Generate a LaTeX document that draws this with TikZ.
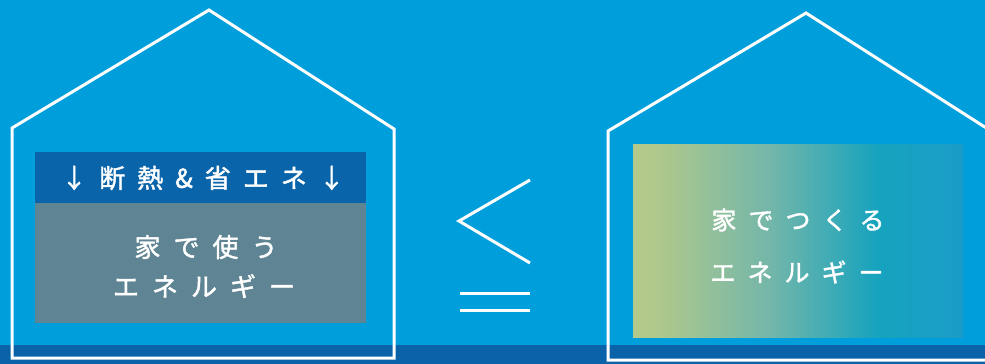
\documentclass[tikz,border=0pt]{standalone}
\usepackage{fontspec}
\newfontfamily\jp[FakeBold=1.6]{Noto Sans CJK JP}
\definecolor{bg}{HTML}{009FDC}
\definecolor{band}{HTML}{0A63A8}
\definecolor{hdrc}{HTML}{0A64AA}
\definecolor{usec}{HTML}{5F8493}
\definecolor{ga}{HTML}{B2C98B}
\definecolor{gb}{HTML}{72B6AA}
\definecolor{gc}{HTML}{16A3BE}
\definecolor{gd}{HTML}{1B9CC8}
\pgfdeclarehorizontalshading{makegrad}{100bp}{color(0bp)=(ga); color(25bp)=(ga); color(28bp)=(ga); color(46bp)=(gb); color(62bp)=(gc); color(75bp)=(gd); color(100bp)=(gd)}
\newcommand\gap[1]{\hspace{#1}}
\begin{document}
\begin{tikzpicture}[x=1pt,y=-1pt,
  houseline/.style={draw=white, line width=3pt, line join=miter},
  symline/.style={draw=white, line width=3pt},
  boxnode/.style={inner sep=0pt, anchor=north west},
  txt/.style={text=white, inner sep=0pt, align=center}]
\useasboundingbox (0,0) rectangle (985,364);
\clip (0,0) rectangle (985,364);
\fill[bg] (0,0) rectangle (985,364);
\fill[band] (0,345) rectangle (985,364);
% left house
\draw[houseline] (12,358) -- (12,128) -- (209,10) -- (394,129) -- (394,358) -- cycle;
% right house
\draw[houseline] (608,360) -- (608,131) -- (806,13) -- (991,131) -- (991,360) -- cycle;
% left boxes
\node[boxnode, fill=hdrc, minimum width=331pt, minimum height=51pt] (hdrbox) at (35,152) {};
\node[boxnode, fill=usec, minimum width=331pt, minimum height=120pt] (usebox) at (35,203) {};
\node[txt, font=\jp\fontsize{26}{26}\selectfont] (hdrtxt) at (203,178) {↓\gap{12pt}断\gap{12pt}熱\gap{12pt}\&\gap{12pt}省\gap{12pt}エ\gap{12pt}ネ\gap{12pt}↓};
\node[txt, font=\jp\fontsize{26}{26}\selectfont] (usetxt1) at (206,247) {家\gap{13pt}で\gap{13pt}使\gap{13pt}う};
\node[txt, font=\jp\fontsize{26}{26}\selectfont] (usetxt2) at (204,286) {エ\gap{13pt}ネ\gap{13pt}ル\gap{13pt}ギ\gap{13pt}ー};
% right box
\node[boxnode, shading=makegrad, minimum width=330pt, minimum height=193pt] (makebox) at (633,144) {};
\node[txt, font=\jp\fontsize{25}{25}\selectfont] (maketxt1) at (798,220) {家\gap{12pt}で\gap{12pt}つ\gap{12pt}く\gap{12pt}る};
\node[txt, font=\jp\fontsize{25}{25}\selectfont] (maketxt2) at (797,272) {エ\gap{12pt}ネ\gap{12pt}ル\gap{12pt}ギ\gap{12pt}ー};
% inequality sign
\draw[symline, line join=miter] (530,180) -- (459,221) -- (530,263);
\draw[symline] (460,293) -- (530,293);
\draw[symline] (460,310) -- (530,310);
\end{tikzpicture}
\end{document}
